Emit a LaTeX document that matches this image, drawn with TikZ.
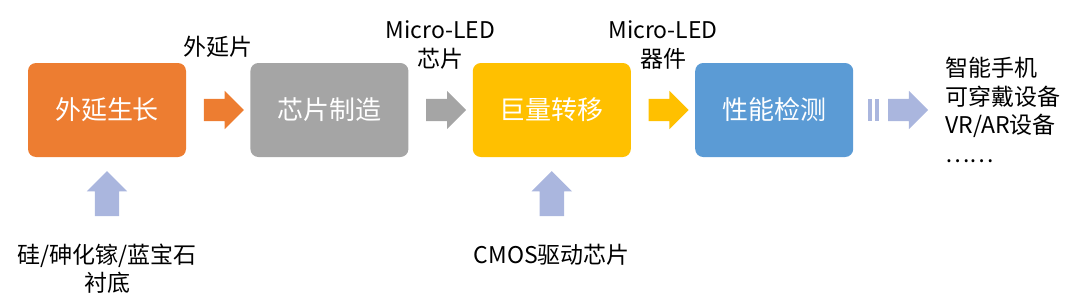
\documentclass[tikz,border=0pt]{standalone}
\usepackage{fontspec}
\newfontfamily\cjk{Noto Sans CJK SC}
\usepackage{xcolor}
\usepackage{tikz}
\usetikzlibrary{shapes,arrows.meta,positioning,calc}
\definecolor{epiorange}{HTML}{ED7D31}
\definecolor{chipgray}{HTML}{A5A5A5}
\definecolor{transgold}{HTML}{FFC000}
\definecolor{testblue}{HTML}{5B9BD5}
\definecolor{inlav}{RGB}{170,182,222}

\begin{document}
\begin{tikzpicture}[x=1pt, y=-1pt,
    box/.style={rounded corners=8pt, minimum width=158pt, minimum height=94pt, inner sep=0pt, text=white, font=\cjk\fontsize{26}{30}\selectfont},
    lbl/.style={inner sep=0pt, align=center, font=\cjk\fontsize{23}{28.5}\selectfont},
    blockarr/.style={single arrow, draw=none, minimum height=40pt, inner xsep=0pt, inner ysep=11pt, single arrow head extend=8pt, single arrow tip angle=90},
    uparr/.style={blockarr, fill=inlav, rotate=90, minimum height=45pt, inner ysep=12pt},
    stripe/.style={fill=inlav, minimum width=4pt, minimum height=22pt, inner sep=0pt},
    node distance=64pt,
]
\useasboundingbox (0,0) rectangle (1080,308);

\node[box, fill=epiorange] (epi) at (107,110) {外延生长};
\node[box, fill=chipgray, right=of epi] (chip) {芯片制造};
\node[box, fill=transgold, right=of chip] (transfer) {巨量转移};
\node[box, fill=testblue, right=of transfer] (test) {性能检测};

\node[blockarr, fill=epiorange] (a1) at ($(epi.east)!.5!(chip.west)$) {};
\node[blockarr, fill=chipgray] (a2) at ($(chip.east)!.5!(transfer.west)$) {};
\node[blockarr, fill=transgold] (a3) at ($(transfer.east)!.5!(test.west)$) {};
\node[stripe] (s1) at ([xshift=17pt]test.east) {};
\node[stripe] (s2) at ([xshift=24pt]test.east) {};
\node[blockarr, fill=inlav] (a4) at ([xshift=49pt]test.east) {};

\node[lbl] (l1) at ([yshift=63pt]a1.center) {外延片};
\node[lbl] (l2) at ([yshift=65pt]a2.center) {Micro-LED\\芯片};
\node[lbl] (l3) at ([yshift=65pt]a3.center) {Micro-LED\\器件};
\node[lbl, anchor=west, align=left] (apps) at ([xshift=17pt]a4.east) {智能手机\\可穿戴设备\\VR/AR设备\\……};

\node[uparr] (u1) at ([yshift=-42.5pt]epi.south) {};
\node[uparr] (u2) at ([yshift=-42.5pt]transfer.south) {};
\node[lbl] (sub) at ([yshift=-69pt]u1.center) {硅/砷化镓/蓝宝石\\衬底};
\node[lbl] (cmos) at ([yshift=-55.5pt]u2.center) {CMOS驱动芯片};
\end{tikzpicture}
\end{document}
